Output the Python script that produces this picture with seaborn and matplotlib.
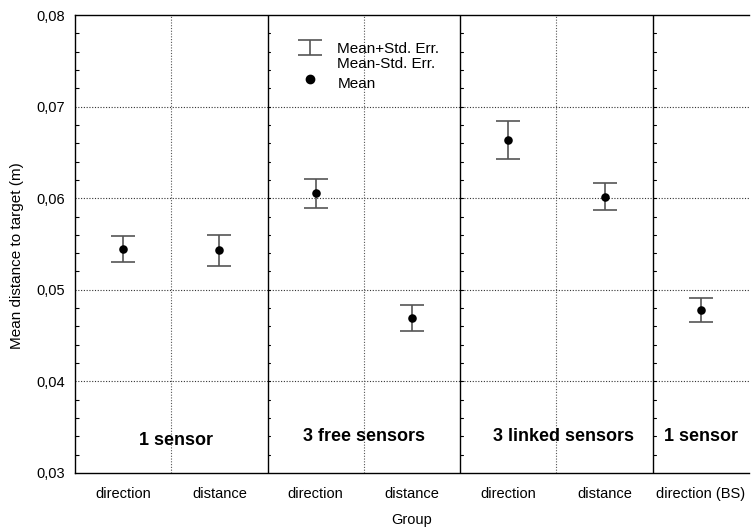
import numpy as np
import pandas as pd
import matplotlib
matplotlib.use('Agg')
import matplotlib.pyplot as plt
import seaborn as sns
from matplotlib.lines import Line2D
from matplotlib.ticker import MultipleLocator, FuncFormatter

# --- DADOS ---
conditions = ['direction', 'distance', 'direction', 'distance', 'direction', 'distance', 'direction (BS)']
means = [0.05445, 0.05431, 0.06053, 0.04692, 0.06635, 0.06016, 0.04776]
std_err = [0.00142, 0.00172, 0.00160, 0.00139, 0.00210, 0.00147, 0.00131]
group_names = ['1 sensor', '3 free sensors', '3 linked sensors', '1 sensor']
group_centers = [0.55, 2.5, 4.57, 6.0]
group_y = [0.0336, 0.0340, 0.0340, 0.0340]

df = pd.DataFrame({'pos': np.arange(len(conditions)), 'cond': conditions,
                   'mean': means, 'se': std_err})

# --- ESTILO ---
sns.set_style('white')
plt.rcParams['font.family'] = ['Liberation Sans', 'DejaVu Sans']
plt.rcParams.update({'text.color': 'black', 'axes.labelcolor': 'black',
                     'xtick.color': 'black', 'ytick.color': 'black'})

fig = plt.figure(figsize=(7.51, 5.27), dpi=100)
ax = fig.add_axes([75 / 751, 54 / 527, 674 / 751, 458 / 527])

# barras de erro (média +- erro padrão)
eb = ax.errorbar(df['pos'], df['mean'], yerr=df['se'], fmt='none',
                 ecolor='#555555', elinewidth=1.2, capsize=8.7, capthick=1.2, zorder=2)
for cap in eb[1]:
    cap.set_color('black')

# médias
sns.scatterplot(data=df, x='pos', y='mean', color='black', s=38,
                edgecolor='black', linewidth=0, zorder=3, legend=False, ax=ax)

ax.set_xlim(-0.5, 6.5)
ax.set_ylim(0.03, 0.08)

# grade
for yv in [0.04, 0.05, 0.06, 0.07]:
    ax.axhline(yv, color='#333333', lw=0.8, ls=(0, (1, 1.5)), zorder=1)
for xv in [0.5, 2.5, 4.5]:
    ax.axvline(xv, color='#555555', lw=0.8, ls=(0, (1, 1.5)), zorder=1)
for xv in [1.5, 3.5, 5.5]:
    ax.axvline(xv, color='black', lw=1.0, zorder=1)
    # pequenos ticks nas linhas de separação
    for yv in np.arange(0.032, 0.08, 0.002):
        ax.plot([xv, xv + 0.03], [yv, yv], color='black', lw=0.8, zorder=1)

ax.set_xticks(df['pos'])
ax.set_xticklabels(conditions, fontsize=10.5)
ax.yaxis.set_major_locator(MultipleLocator(0.01))
ax.yaxis.set_minor_locator(MultipleLocator(0.002))
ax.yaxis.set_major_formatter(FuncFormatter(lambda v, p: f'{v:.2f}'.replace('.', ',')))
ax.tick_params(axis='y', which='major', length=0, labelsize=10.5, pad=7)
ax.tick_params(axis='y', which='minor', direction='in', length=3, width=0.8, left=True)
ax.tick_params(axis='x', length=0, pad=10)

for s in ['left', 'bottom', 'top']:
    ax.spines[s].set_color('black')
    ax.spines[s].set_linewidth(1.0)
ax.spines['right'].set_visible(False)

ax.set_xlabel('Group', fontsize=10.5, labelpad=9)
ax.set_ylabel('Mean distance to target (m)', fontsize=11)
ax.yaxis.set_label_coords(-0.076, 0.475)

# rótulos dos grupos
for xc, yc, name in zip(group_centers, group_y, group_names):
    ax.text(xc, yc, name, ha='center', va='center', fontsize=13, fontweight='bold')

# legenda
handles = [eb, Line2D([], [], ls='none'),
           Line2D([], [], marker='o', color='black', ls='none', markersize=6)]
labels = ['Mean+Std. Err.', 'Mean-Std. Err.', 'Mean']
leg = ax.legend(handles, labels, loc='upper left', bbox_to_anchor=(0.303, 0.972),
                frameon=False, fontsize=11, handlelength=2.2, handletextpad=0.7,
                labelspacing=0.12)
# espaço extra antes da linha "Mean"
leg.get_texts()[2].set_y(-4)

fig.savefig('out.png', dpi=100)
